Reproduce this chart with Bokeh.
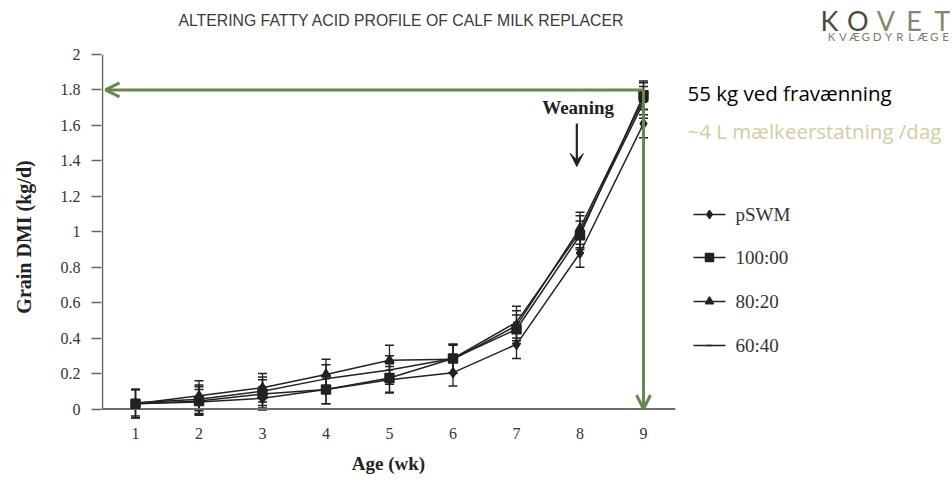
from bokeh.plotting import figure
from bokeh.layouts import column, row
from bokeh.models import (ColumnDataSource, Whisker, TeeHead, Arrow, OpenHead, VeeHead,
                          Label, FixedTicker, NumeralTickFormatter, Range1d)
from bokeh.core.properties import value
from bokeh.embed import file_html
from bokeh.resources import INLINE

# ---------------- data ----------------
weeks = [1, 2, 3, 4, 5, 6, 7, 8, 9]
series_names = ["pSWM", "100:00", "80:20", "60:40"]
pswm = [0.03, 0.04, 0.06, 0.11, 0.165, 0.205, 0.365, 0.88, 1.61]
r100 = [0.03, 0.045, 0.085, 0.11, 0.175, 0.285, 0.45, 0.98, 1.77]
r80 = [0.03, 0.075, 0.12, 0.195, 0.275, 0.28, 0.47, 1.02, 1.75]
r60 = [0.035, 0.055, 0.10, 0.17, 0.22, 0.285, 0.49, 1.00, 1.73]
se_pswm = [0.08, 0.07, 0.065, 0.08, 0.075, 0.075, 0.08, 0.08, 0.08]
se_100 = [0.08, 0.08, 0.08, 0.08, 0.08, 0.08, 0.08, 0.08, 0.08]
se_80 = [0.08, 0.085, 0.08, 0.085, 0.085, 0.08, 0.085, 0.09, 0.09]
se_60 = [0.075, 0.08, 0.08, 0.08, 0.08, 0.08, 0.09, 0.09, 0.09]
y_ticks = [0, 0.2, 0.4, 0.6, 0.8, 1.0, 1.2, 1.4, 1.6, 1.8, 2.0]
weaning_week = 8
target_week = 9
target_intake = 1.8

title_text = "ALTERING FATTY ACID PROFILE OF CALF MILK REPLACER"
note1 = "55 kg ved fravænning"
note2 = "~4 L mælkeerstatning /dag"
logo_word = "KOVET"
logo_sub = "KVÆGDYRLÆGE"

# ---------------- geometry (page pixels) ----------------
PAGE_W, PAGE_H = 952, 484
TOP_H = 46                      # height of the title strip
MAIN_W = 680                    # width of the chart figure
SIDE_W = PAGE_W - MAIN_W
BODY_H = PAGE_H - TOP_H
FL, FR, FT, FB = 101, 675, 54, 419       # chart frame edges on page
X_W1 = 135.0                              # page x of week 1
PXU = 63.5                                # px per week
Y_0 = 408.5                               # page y of value 0
PYU = (Y_0 - FT) / 2.0                    # px per unit

xs = 1 - (X_W1 - FL) / PXU
xe = 1 + (FR - X_W1) / PXU
ys = -(FB - Y_0) / PYU
ye = 2.0


def dx(px):
    return 1 + (px - X_W1) / PXU


def dy(py):
    return (Y_0 - py) / PYU


SERIF = "Liberation Serif"
INK = "#222222"
GREEN = "#6a8650"


def blank_fig(w, h, xr, yr, bt=0, bb=0):
    f = figure(width=w, height=h, output_backend="svg", toolbar_location=None,
               x_range=Range1d(*xr), y_range=Range1d(*yr),
               x_axis_location=None, y_axis_location=None,
               min_border=0, min_border_left=0, min_border_right=0,
               min_border_top=bt, min_border_bottom=bb)
    f.outline_line_color = None
    f.grid.visible = False
    f.background_fill_color = "white"
    f.border_fill_color = "white"
    return f


# ---------------- main chart ----------------
p = figure(width=MAIN_W, height=BODY_H, output_backend="svg", toolbar_location=None,
           x_range=Range1d(xs, xe), y_range=Range1d(ys, ye),
           min_border_left=FL, min_border_right=MAIN_W - FR,
           min_border_top=FT - TOP_H, min_border_bottom=BODY_H - (FB - TOP_H))
p.outline_line_color = None
p.grid.visible = False
p.background_fill_color = "white"
p.border_fill_color = "white"

p.xaxis.ticker = FixedTicker(ticks=weeks)
p.xaxis.axis_line_color = None
p.xaxis.major_tick_line_color = None
p.xaxis.minor_tick_line_color = None
p.xaxis.major_label_text_font = SERIF
p.xaxis.major_label_text_font_size = "16px"
p.xaxis.major_label_text_color = "#333333"
p.xaxis.major_label_standoff = 2
p.xaxis.axis_label = "Age (wk)"
p.xaxis.axis_label_text_font = SERIF
p.xaxis.axis_label_text_font_style = "bold"
p.xaxis.axis_label_text_font_size = "19px"
p.xaxis.axis_label_text_color = INK
p.xaxis.axis_label_standoff = 11

p.yaxis.ticker = FixedTicker(ticks=y_ticks)
p.yaxis.formatter = NumeralTickFormatter(format="0.[0]")
p.yaxis.axis_line_color = None
p.yaxis.major_tick_out = 10
p.yaxis.major_tick_in = 0
p.yaxis.major_tick_line_color = "#666666"
p.yaxis.major_tick_line_width = 1.5
p.yaxis.minor_tick_line_color = None
p.yaxis.major_label_text_font = SERIF
p.yaxis.major_label_text_font_size = "16px"
p.yaxis.major_label_text_color = "#333333"
p.yaxis.major_label_standoff = 11
p.yaxis.axis_label = "Grain DMI (kg/d)"
p.yaxis.axis_label_text_font = SERIF
p.yaxis.axis_label_text_font_style = "bold"
p.yaxis.axis_label_text_font_size = "20px"
p.yaxis.axis_label_text_color = INK
p.yaxis.axis_label_standoff = 23

# axis lines at value 0 / y-axis position
p.segment(x0=[dx(102)], y0=[0], x1=[dx(102)], y1=[y_ticks[-1]], line_color="#666666", line_width=1.5)
p.segment(x0=[xs], y0=[0], x1=[xe], y1=[0], line_color="#6e6e6e", line_width=2.2)

vals = [pswm, r100, r80, r60]
ses = [se_pswm, se_100, se_80, se_60]
markers = ["diamond", "square", "triangle", "dash"]
msizes = [10, 9, 9, 7]
for name, v, se, mk, ms in zip(series_names, vals, ses, markers, msizes):
    src = ColumnDataSource(dict(x=weeks, y=v,
                                upper=[a + b for a, b in zip(v, se)],
                                lower=[a - b for a, b in zip(v, se)]))
    p.add_layout(Whisker(source=src, base="x", upper="upper", lower="lower",
                         line_color=INK, line_width=1.3,
                         upper_head=TeeHead(size=9, line_color=INK, line_width=1.5),
                         lower_head=TeeHead(size=9, line_color=INK, line_width=1.5)))
    p.line("x", "y", source=src, line_color=INK, line_width=1.5)
    p.scatter("x", "y", source=src, marker=mk, size=ms, fill_color=INK,
              line_color=INK, line_width=1.5)

# green target arrows
p.add_layout(Arrow(x_start=target_week, y_start=target_intake, x_end=dx(105), y_end=target_intake,
                   line_color=GREEN, line_width=3,
                   end=OpenHead(size=14, line_color=GREEN, line_width=3)))
p.add_layout(Arrow(x_start=target_week, y_start=target_intake, x_end=target_week, y_end=0,
                   line_color=GREEN, line_width=3,
                   end=OpenHead(size=14, line_color=GREEN, line_width=3)))

# weaning marker
p.add_layout(Label(x=weaning_week - 0.03, y=dy(107), text="Weaning", text_font=SERIF,
                   text_font_style="bold", text_font_size="19px", text_color=INK,
                   text_align="center", text_baseline="middle"))
p.add_layout(Arrow(x_start=weaning_week - 0.05, y_start=dy(123), x_end=weaning_week - 0.05, y_end=dy(166),
                   line_color=INK, line_width=2.2,
                   end=VeeHead(size=13, fill_color=INK, line_color=INK, line_width=1)))

# ---------------- title strip (page-pixel coordinates) ----------------
ptop = blank_fig(PAGE_W, TOP_H, (0, PAGE_W), (TOP_H, 0))
ptop.text(x=[401], y=[20], text=[title_text], text_font=value("Liberation Sans"),
          text_font_size="15.8px", text_color="#3a3a3a",
          text_align="center", text_baseline="middle")
logo_cols = ["#4a4b3c", "#4a4b3c", "#86856d", "#86856d", "#86856d"]
ptop.text(x=[829 + 28.2 * i for i in range(len(logo_word))], y=[20] * len(logo_word),
          text=list(logo_word), text_color=logo_cols, text_font=value("Lato"),
          text_font_size="27px", text_align="center", text_baseline="alphabetic")
ptop.text(x=[831 + 11.4 * i for i in range(len(logo_sub))], y=[36] * len(logo_sub),
          text=list(logo_sub), text_color="#7d7d65", text_font=value("Lato"),
          text_font_size="11.5px", text_align="center", text_baseline="alphabetic")

# ---------------- side panel: notes + legend (page-pixel coordinates) ----------------
# frame aligned with the chart frame (page y FT..FB)
ps = blank_fig(SIDE_W, BODY_H, (MAIN_W, PAGE_W), (FB, FT),
               bt=FT - TOP_H, bb=BODY_H - (FB - TOP_H))
ps.text(x=[687], y=[92], text=[note1], text_font=value("Open Sans"), text_font_size="20.5px",
        text_color="#000000", text_align="left", text_baseline="middle")
ps.text(x=[687], y=[130], text=[note2], text_font=value("Open Sans"), text_font_size="20.5px",
        text_color="#d3cda3", text_align="left", text_baseline="middle")

leg_rows = [214, 257, 301, 345]
leg_sizes = [8, 8, 8, 6]
for name, mk, ms, ry in zip(series_names, markers, leg_sizes, leg_rows):
    ps.segment(x0=[693], y0=[ry], x1=[725], y1=[ry], line_color=INK, line_width=1.5)
    ps.scatter(x=[709], y=[ry], marker=mk, size=ms, fill_color=INK, line_color=INK, line_width=1.5)
    ps.text(x=[735], y=[ry], text=[name], text_font=value(SERIF), text_font_size="19px",
            text_color="#333333", text_align="left", text_baseline="middle")

layout = column(ptop, row(p, ps, spacing=0), spacing=0)
open("out.html", "w").write(file_html(layout, INLINE))
